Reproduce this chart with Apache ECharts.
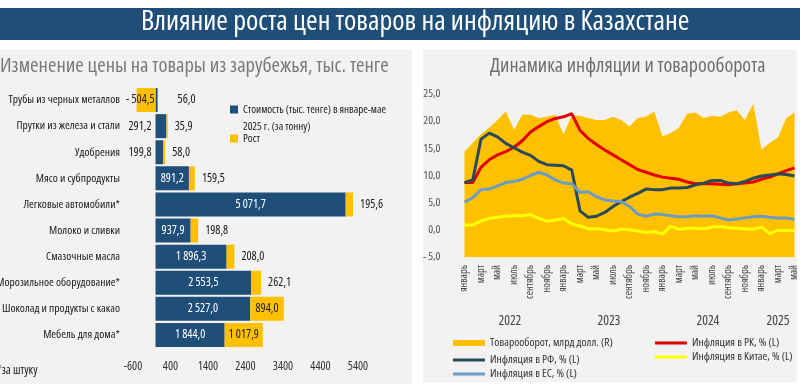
<!DOCTYPE html>
<html><head><meta charset="utf-8">
<script src="https://cdn.jsdelivr.net/npm/echarts@6/dist/echarts.min.js"></script>
<style>html,body{margin:0;padding:0;background:#fff}#c{width:800px;height:389px}</style>
</head><body><div id="c"></div>
<script>
// ---------- data: left chart ----------
const goods = ['Трубы из черных металлов','Прутки из железа и стали','Удобрения','Мясо и субпродукты','Легковые автомобили*','Молоко и сливки','Смазочные масла','Морозильное оборудование*','Шоколад и продукты с какао','Мебель для дома*'];
const cost = [56.0, 291.2, 199.8, 891.2, 5071.7, 937.9, 1896.3, 2553.5, 2527.0, 1844.0];
const growth = [-504.5, 35.9, 58.0, 159.5, 195.6, 198.8, 208.0, 262.1, 894.0, 1017.9];
const costName = 'Стоимость (тыс. тенге) в январе-мае 2025 г. (за тонну)';
const growthName = 'Рост';

// ---------- data: right chart ----------
const months = ['январь','февраль','март','апрель','май','июнь','июль','август','сентябрь','октябрь','ноябрь','декабрь',
 'январь','февраль','март','апрель','май','июнь','июль','август','сентябрь','октябрь','ноябрь','декабрь',
 'январь','февраль','март','апрель','май','июнь','июль','август','сентябрь','октябрь','ноябрь','декабрь',
 'январь','февраль','март','апрель','май'];
const yearLabels = ['2022','2023','2024','2025'];
const trade = [9.7,10.5,11.3,11.9,12.6,13.4,11.7,13.1,13.1,12.8,12.9,13.1,
 11.3,13.0,13.0,12.8,12.6,12.6,12.9,12.6,12.0,12.8,12.9,13.4,
 11.1,11.4,11.9,13.2,13.3,12.8,13.0,12.9,13.3,13.5,12.6,14.1,
 9.9,10.5,11.0,12.8,13.3];
const infRK = [8.7,8.7,11.5,12.9,13.8,14.4,15.2,16.4,18.0,19.0,19.9,20.5,
 20.8,21.4,18.3,16.8,15.7,14.7,13.8,12.9,12.0,11.1,10.6,10.1,
 9.7,9.5,9.3,8.8,8.5,8.5,8.5,8.4,8.3,8.5,8.6,8.8,
 9.3,9.7,10.3,10.9,11.4];
const infRF = [8.7,9.2,16.7,17.8,17.1,15.9,15.1,14.3,13.7,12.6,12.0,11.9,
 11.8,11.0,3.5,2.3,2.5,3.2,4.3,5.2,6.0,6.7,7.5,7.4,
 7.4,7.7,7.7,7.8,8.3,8.6,9.1,9.1,8.6,8.5,8.9,9.5,
 9.9,10.1,10.3,10.2,9.9];
const infCN = [0.9,0.9,1.6,2.1,2.3,2.5,2.6,2.6,2.8,2.1,1.6,1.8,
 2.1,1.1,0.7,0.2,0.2,0.0,-0.2,0.1,0.0,-0.2,-0.5,-0.3,
 -0.8,0.7,0.1,0.3,0.3,0.2,0.5,0.6,0.4,0.3,0.2,0.1,
 0.5,-0.7,-0.1,-0.1,-0.1];
const infEU = [5.1,5.9,7.4,7.5,8.1,8.7,8.9,9.3,10.0,10.6,10.1,9.2,
 8.6,8.5,6.9,7.0,6.1,5.5,5.3,5.2,4.3,2.9,2.5,2.9,
 2.8,2.6,2.4,2.4,2.6,2.5,2.6,2.2,1.8,2.0,2.2,2.4,
 2.5,2.3,2.2,2.2,1.9];
const tradeName = 'Товарооборот, млрд долл. (R)';
const rkName = 'Инфляция в РК, % (L)';
const rfName = 'Инфляция в РФ, % (L)';
const cnName = 'Инфляция в Китае, % (L)';
const euName = 'Инфляция в ЕС, % (L)';

// ---------- helpers ----------
const FONT = "'Open Sans'";
const FW = 'condensed';          // font-stretch injected into the font shorthand
const FWM = '500 condensed';
function ts(size, color, extra, w){ return Object.assign({fontFamily:FONT, fontWeight:w||FWM, fontSize:size, color:color}, extra||{}); }
function fmt(v){
  const s = Math.abs(v).toFixed(1).split('.');
  const ip = s[0].replace(/\B(?=(\d{3})+(?!\d))/g,' ');
  return (v<0?'- ':'') + ip + ',' + s[1];
}
function costLabel(i){
  const v = cost[i], g = growth[i];
  if (v >= 500) return {show:true, position:'inside', color:'#fff'};
  return {show:true, position: g<0 ? 'right' : 'left', color:'#1a1a1a', distance: g<0 ? 20 : 4};
}
function growthLabel(i){
  const g = growth[i];
  if (g < 0) return {show:true, position:'insideRight', color:'#1a1a1a', distance:1};
  if (g > 500) return {show:true, position:'inside', color:'#1a1a1a'};
  return {show:true, position:'right', color:'#1a1a1a', distance:7};
}
const yearCenters = [];
{
  let start = 0;
  for (let i=1;i<=months.length;i++){
    if (i===months.length || months[i]==='январь'){ yearCenters.push((start+i-1)/2); start=i; }
  }
}
const lineLegend = {orient:'vertical', padding:0, itemWidth:32, itemHeight:3, icon:'rect'};

const chart = echarts.init(document.getElementById('c'), null, {renderer:'canvas'});
const option = {
  animation:false,
  backgroundColor:'#ffffff',
  textStyle:{fontFamily:FONT, fontWeight:FW},
  graphic:[
    {type:'rect', z:-10, shape:{x:0,y:8,width:800,height:32}, style:{fill:'#1f4e79'}},
    {type:'rect', z:-10, shape:{x:0,y:50,width:412,height:334}, style:{fill:'#f2f2f2'}},
    {type:'rect', z:-10, shape:{x:423,y:50,width:374,height:332}, style:{fill:'#f2f2f2'}},
    {type:'text', x:-3, y:365, style:{text:'*за штуку', font:"500 condensed 12px 'Open Sans'", fill:'#1a1a1a'}}
  ],
  title:[
    {text:'Влияние роста цен товаров на инфляцию в Казахстане', left:141, top:8, padding:0,
     textStyle:ts(28,'#ffffff',null,FW)},
    {text:'Изменение цены на товары из зарубежья, тыс. тенге', left:0, top:56, padding:0,
     textStyle:ts(20.5,'#7a7a7a',null,FW)},
    {text:'Динамика инфляции и товарооборота', left:490, top:56, padding:0,
     textStyle:ts(20,'#6e6e6e',null,FW)}
  ],
  legend:[
    {data:[costName], left:230, top:84, orient:'vertical', padding:0, itemWidth:8, itemHeight:8, icon:'rect',
     formatter:()=>' \nСтоимость (тыс. тенге) в январе-мае\n2025 г. (за тонну)',
     textStyle:ts(11,'#1a1a1a',{lineHeight:17})},
    {data:[growthName], left:230, top:133, orient:'vertical', padding:0, itemWidth:8, itemHeight:8, icon:'rect',
     textStyle:ts(11,'#1a1a1a')},
    {data:[{name:tradeName, icon:'rect'}], left:453, top:337, orient:'vertical', padding:0,
     itemWidth:32, itemHeight:6, textStyle:ts(11.5,'#333')},
    Object.assign({data:[rfName, euName], left:453, top:354, itemGap:2, textStyle:ts(11.5,'#333')}, lineLegend),
    Object.assign({data:[rkName, cnName], left:655, top:337, itemGap:2, textStyle:ts(11.5,'#333')}, lineLegend)
  ],
  grid:[
    {left:133, top:87, width:225, height:261, outerBoundsMode:'none', containLabel:false},
    {left:464.5, right:5.5, top:94, bottom:132, outerBoundsMode:'none', containLabel:false}
  ],
  xAxis:[
    {type:'value', gridIndex:0, min:-600, max:5400, interval:1000,
     axisLine:{show:false}, axisTick:{show:false}, splitLine:{show:false},
     axisLabel:ts(12,'#333',{margin:13, formatter:v=>String(v)})},
    {type:'category', gridIndex:1, data:months, boundaryGap:false,
     axisLine:{show:false}, axisTick:{show:false}, splitLine:{show:false},
     axisLabel:ts(10.5,'#444',{interval:1, rotate:90, margin:8})},
    {type:'value', gridIndex:1, min:0, max:months.length-1, position:'bottom',
     axisLine:{show:false}, axisTick:{show:false}, splitLine:{show:false},
     axisLabel:ts(13.5,'#444',{customValues:yearCenters, margin:57,
       formatter:v=>{const k=yearCenters.indexOf(v); return k>=0?yearLabels[k]:'';}})}
  ],
  yAxis:[
    {type:'category', gridIndex:0, data:goods, inverse:true,
     axisLine:{show:false}, axisTick:{show:false}, splitLine:{show:false},
     axisLabel:ts(11.5,'#1a1a1a',{margin:13})},
    {type:'value', gridIndex:1, min:-5, max:25, interval:5,
     axisLine:{show:false}, axisTick:{show:false}, splitLine:{show:false},
     axisLabel:ts(11.5,'#555',{margin:24,
       formatter:v=>(v<0?'- ':'')+Math.abs(v).toFixed(1).replace('.',',')})},
    {type:'value', gridIndex:1, min:0, max:15, show:false}
  ],
  series:[
    {name:costName, type:'bar', stack:'s', xAxisIndex:0, yAxisIndex:0, barCategoryGap:'8%',
     itemStyle:{color:'#1f4e79'},
     label:{fontSize:12, fontFamily:FONT, fontWeight:FWM, formatter:p=>fmt(p.value)},
     data:cost.map((v,i)=>({value:v, label:costLabel(i)}))},
    {name:growthName, type:'bar', stack:'s', xAxisIndex:0, yAxisIndex:0, barCategoryGap:'8%',
     itemStyle:{color:'#ffc000'},
     label:{fontSize:12, fontFamily:FONT, fontWeight:FWM, formatter:p=>fmt(p.value)},
     data:growth.map((v,i)=>({value:v, label:growthLabel(i)}))},
    {name:tradeName, type:'line', xAxisIndex:1, yAxisIndex:2, data:trade, symbol:'none',
     itemStyle:{color:'#ffc000'}, lineStyle:{width:0, color:'#ffc000'},
     areaStyle:{color:'#ffc000', opacity:1, origin:'start'}, z:1},
    {name:rkName, type:'line', xAxisIndex:1, yAxisIndex:1, data:infRK, symbol:'none',
     itemStyle:{color:'#e00000'}, lineStyle:{width:3, color:'#e00000'}},
    {name:rfName, type:'line', xAxisIndex:1, yAxisIndex:1, data:infRF, symbol:'none',
     itemStyle:{color:'#2a4a5c'}, lineStyle:{width:3, color:'#2a4a5c'}},
    {name:cnName, type:'line', xAxisIndex:1, yAxisIndex:1, data:infCN, symbol:'none',
     itemStyle:{color:'#ffff00'}, lineStyle:{width:3, color:'#ffff00'}},
    {name:euName, type:'line', xAxisIndex:1, yAxisIndex:1, data:infEU, symbol:'none',
     itemStyle:{color:'#6c9cc4'}, lineStyle:{width:3, color:'#6c9cc4'}}
  ]
};
chart.setOption(option);
</script>
</body></html>
